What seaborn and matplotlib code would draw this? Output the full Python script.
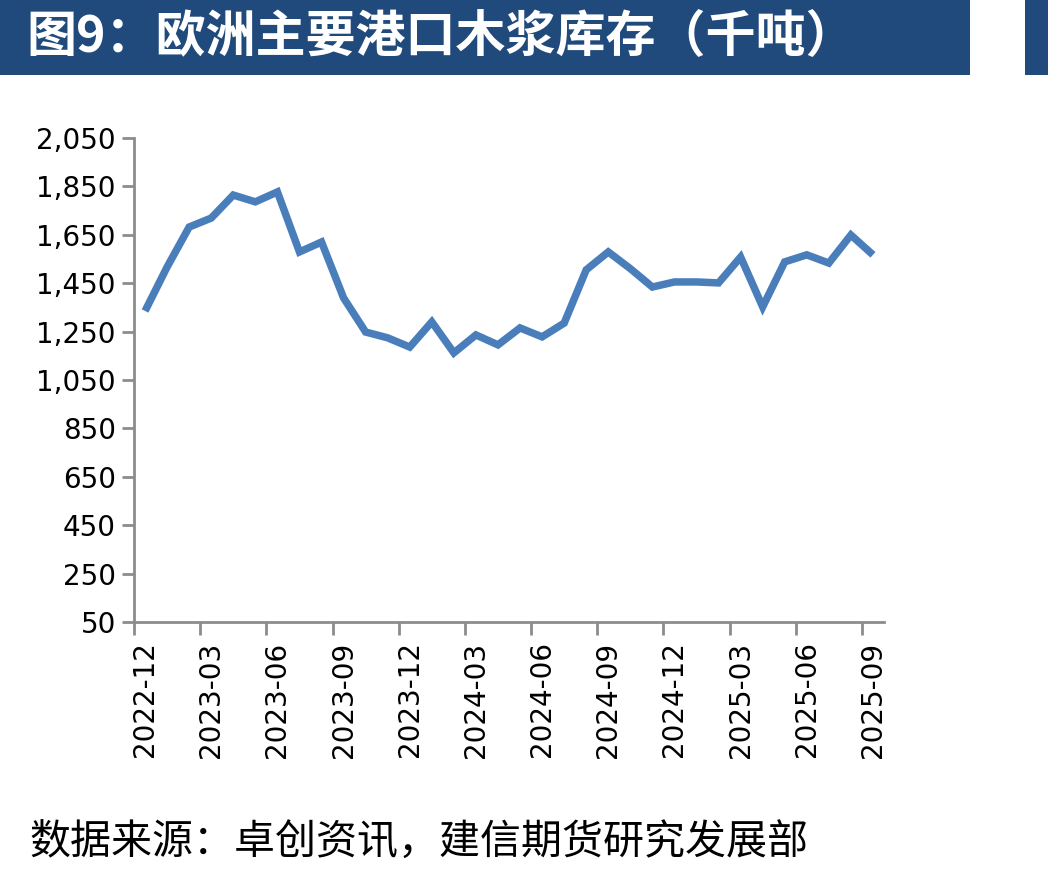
import numpy as np
import pandas as pd
import matplotlib
matplotlib.use("Agg")
import matplotlib.pyplot as plt
import seaborn as sns
from matplotlib.patches import Rectangle
from matplotlib.ticker import FixedLocator, FuncFormatter

sns.set_style("ticks")
plt.rcParams['font.family'] = ['DejaVu Sans', 'Noto Sans CJK SC']

# 月份：2022-12 至 2025-09
meses = pd.period_range('2022-12', '2025-09', freq='M').strftime('%Y-%m').tolist()

# 欧洲主要港口木浆库存（千吨），读自原图
inventario = [1335, 1517, 1682, 1719, 1814, 1786, 1827, 1579, 1620, 1389,
              1248, 1224, 1186, 1290, 1162, 1236, 1195, 1265, 1228, 1285,
              1505, 1579, 1510, 1434, 1455, 1455, 1451, 1558, 1352, 1538,
              1567, 1533, 1649, 1567]

y_ticks = list(range(50, 2051, 200))

titulo = '图9：欧洲主要港口木浆库存（千吨）'
fuente = '数据来源：卓创资讯，建信期货研究发展部'

df = pd.DataFrame({'pos': np.arange(len(meses)), 'mes': meses, 'valor': inventario})

fig = plt.figure(figsize=(10.48, 8.77), dpi=100)
ax = fig.add_axes([0.1279, 0.2908, 0.7156, 0.5519])

sns.lineplot(data=df, x='pos', y='valor', ax=ax, color='#4a7ebb', linewidth=5.4,
             solid_joinstyle='miter', solid_capstyle='butt')

ax.set_xlim(-0.5, len(meses) - 0.5)
ax.set_ylim(50, 2050)

# etiquetas cada 3 meses, marcas entre categorías (estilo Excel)
idx = list(range(0, len(meses), 3))
ax.set_xticks(idx)
ax.set_xticklabels([meses[i] for i in idx], rotation=90, fontsize=20, color='black')
ax.tick_params(axis='x', which='major', length=0, pad=14)
ax.xaxis.set_minor_locator(FixedLocator([i - 0.5 for i in idx]))
ax.tick_params(axis='x', which='minor', length=9, width=2, color='#8c8c8c')

ax.set_yticks(y_ticks)
ax.yaxis.set_major_formatter(FuncFormatter(lambda v, p: f'{int(v):,}'))
ax.tick_params(axis='y', length=9, width=2, color='#8c8c8c', labelsize=20,
               labelcolor='black', pad=4)

for s in ['top', 'right']:
    ax.spines[s].set_visible(False)
for s in ['left', 'bottom']:
    ax.spines[s].set_color('#8c8c8c')
    ax.spines[s].set_linewidth(2)
ax.set_xlabel('')
ax.set_ylabel('')
ax.grid(False)

# barra de título
fig.patches.append(Rectangle((0, 0.9145), 0.9256, 0.0855, transform=fig.transFigure,
                             facecolor='#214a7c', edgecolor='none'))
fig.patches.append(Rectangle((0.978, 0.9145), 0.022, 0.0855, transform=fig.transFigure,
                             facecolor='#214a7c', edgecolor='none'))
fig.text(0.025, 0.9567, titulo, color='white', fontsize=36, fontweight='bold',
         va='center', ha='left', family=['Noto Sans CJK SC', 'DejaVu Sans'])

fig.text(0.028, 0.0388, fuente, color='black', fontsize=29.5, va='center', ha='left',
         family=['Noto Sans CJK SC', 'DejaVu Sans'])

fig.savefig('out.png', dpi=100)
